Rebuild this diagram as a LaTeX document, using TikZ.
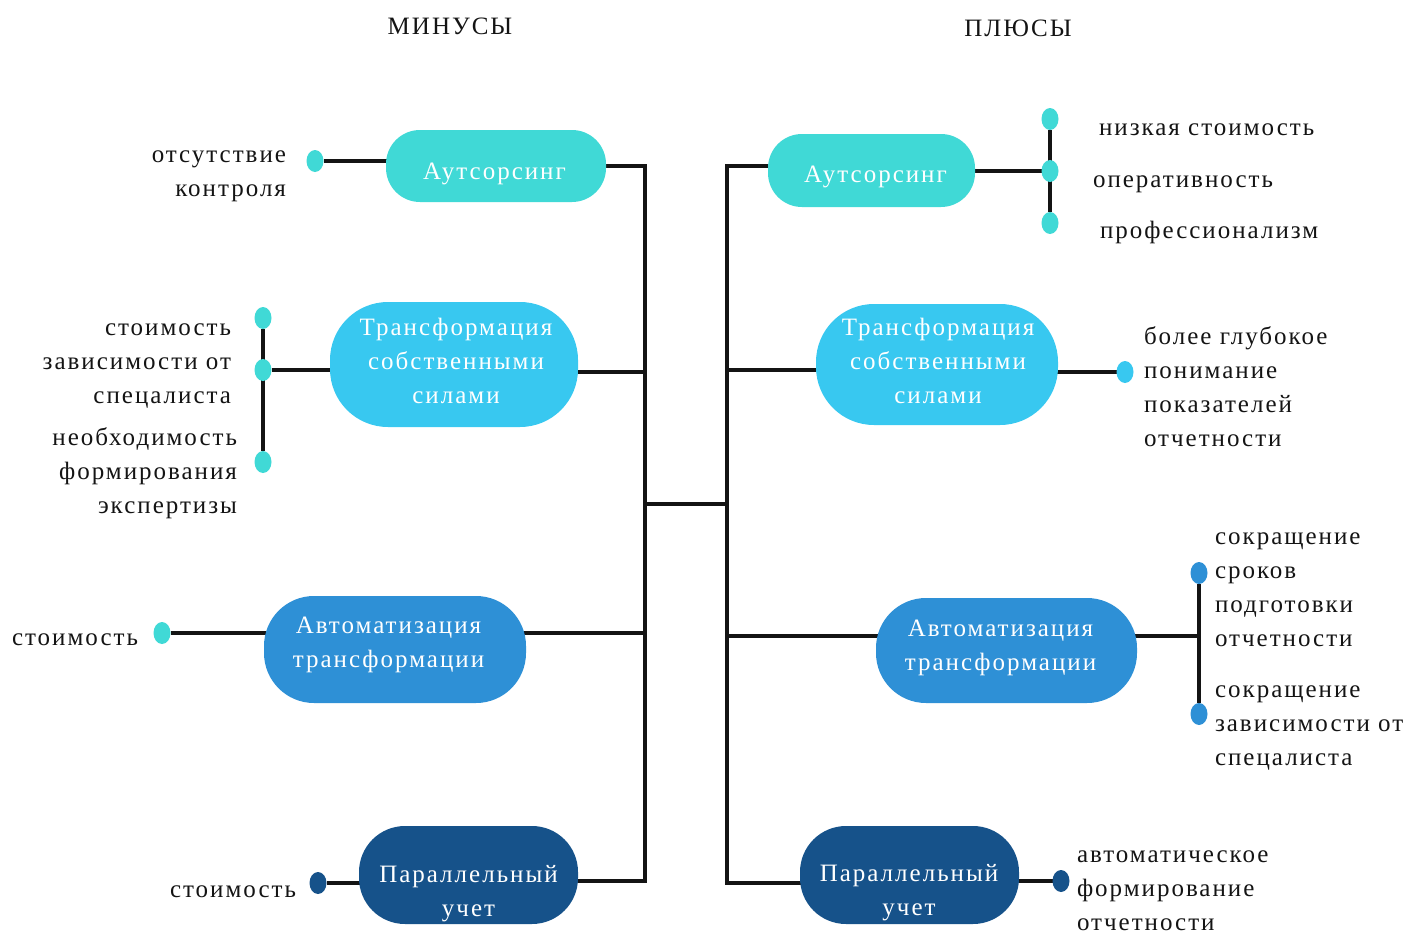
\documentclass[tikz,border=0pt]{standalone}
\usepackage{fontspec}
\setmainfont{Liberation Serif}[LetterSpace=8]
\usetikzlibrary{shapes.geometric}
\definecolor{turq}{HTML}{40D9D6}
\definecolor{cyanb}{HTML}{38C8F0}
\definecolor{midb}{HTML}{2E90D6}
\definecolor{darkb}{HTML}{16528A}
\definecolor{ink}{HTML}{141414}
\pgfdeclarelayer{bg}
\pgfsetlayers{bg,main}
\begin{document}
\begin{tikzpicture}[x=1pt,y=-1pt,
  every node/.style={inner sep=0pt,outer sep=0pt},
  txt/.style={font=\fontsize{25}{34}\selectfont,text=ink},
  wtxt/.style={font=\fontsize{25}{34}\selectfont,text=white,align=center},
  box/.style={draw=none},
  dot/.style={ellipse,minimum width=17pt,minimum height=22pt},
  ln/.style={line width=3.8pt,draw=ink}]
\useasboundingbox (0,0) rectangle (1411,934);

% titles
\node[txt,anchor=north] (tmin) at (450,11.2) {\strut МИНУСЫ};
\node[txt,anchor=north] (tplu) at (1018,13.2) {\strut ПЛЮСЫ};

% boxes, left
\node[box,fill=turq,minimum width=220pt,minimum height=72pt,rounded corners=34pt] (lA) at (496,166) {};
\node[box,fill=cyanb,minimum width=248pt,minimum height=125pt,rounded corners=58pt] (lT) at (454,364.5) {};
\node[box,fill=midb,minimum width=262pt,minimum height=107pt,rounded corners=50pt] (lM) at (395,649.5) {};
\node[box,fill=darkb,minimum width=219pt,minimum height=98pt,rounded corners=46pt] (lP) at (468.5,875) {};
% boxes, right
\node[box,fill=turq,minimum width=207pt,minimum height=73pt,rounded corners=34pt] (rA) at (871.5,170.5) {};
\node[box,fill=cyanb,minimum width=242pt,minimum height=121pt,rounded corners=58pt] (rT) at (937,364.5) {};
\node[box,fill=midb,minimum width=261pt,minimum height=105pt,rounded corners=50pt] (rM) at (1006.5,650.5) {};
\node[box,fill=darkb,minimum width=219pt,minimum height=98pt,rounded corners=46pt] (rP) at (909.5,875) {};

% box texts
\node[wtxt] (lAt) at (494.5,172.2) {\strut Аутсорсинг};
\node[wtxt] (lTt) at (456,362.2) {\strut Трансформация\\\strut собственными\\\strut силами};
\node[wtxt] (lMt) at (388.5,643.2) {\strut Автоматизация\\\strut трансформации};
\node[wtxt] (lPt) at (468.5,892.2) {\strut Параллельный\\\strut учет};
\node[wtxt] (rAt) at (875.5,175.2) {\strut Аутсорсинг};
\node[wtxt] (rTt) at (938,362.2) {\strut Трансформация\\\strut собственными\\\strut силами};
\node[wtxt] (rMt) at (1000.5,646.2) {\strut Автоматизация\\\strut трансформации};
\node[wtxt] (rPt) at (909,891.2) {\strut Параллельный\\\strut учет};

% dots, left
\node[dot,fill=turq] (dlA) at (315,161) {};
\node[dot,fill=turq] (dlT1) at (263,318) {};
\node[dot,fill=turq] (dlT2) at (263,370) {};
\node[dot,fill=turq] (dlT3) at (263,462) {};
\node[dot,fill=turq] (dlM) at (162,633) {};
\node[dot,fill=darkb] (dlP) at (318,883) {};
% dots, right
\node[dot,fill=turq] (drA1) at (1050,119) {};
\node[dot,fill=turq] (drA2) at (1050,171) {};
\node[dot,fill=turq] (drA3) at (1050,223) {};
\node[dot,fill=cyanb] (drT) at (1125,372) {};
\node[dot,fill=midb] (drM1) at (1199,573) {};
\node[dot,fill=midb] (drM2) at (1199,714) {};
\node[dot,fill=darkb] (drP) at (1061,881) {};

% labels, left
\node[txt,align=right,anchor=north east] (llA) at (286,138.2) {\strut отсутствие\\\strut контроля};
\node[txt,align=right,anchor=north east] (llT1) at (231,311.2) {\strut стоимость\\\strut зависимости от\\\strut спецалиста};
\node[txt,align=right,anchor=north east] (llT2) at (237,421.2) {\strut необходимость\\\strut формирования\\\strut экспертизы};
\node[txt,anchor=north east] (llM) at (138,621.2) {\strut стоимость};
\node[txt,anchor=north east] (llP) at (296,873.2) {\strut стоимость};
% labels, right
\node[txt,anchor=north west] (lrA1) at (1099,111.2) {\strut низкая стоимость};
\node[txt,anchor=north west] (lrA2) at (1093,163.2) {\strut оперативность};
\node[txt,anchor=north west] (lrA3) at (1100,214.2) {\strut профессионализм};
\node[txt,align=left,anchor=north west] (lrT) at (1144,320.2) {\strut более глубокое\\\strut понимание\\\strut показателей\\\strut отчетности};
\node[txt,align=left,anchor=north west] (lrM1) at (1215,520.2) {\strut сокращение\\\strut сроков\\\strut подготовки\\\strut отчетности};
\node[txt,align=left,anchor=north west] (lrM2) at (1215,673.2) {\strut сокращение\\\strut зависимости от\\\strut спецалиста};
\node[txt,align=left,anchor=north west] (lrP) at (1077,839) {\strut автоматическое\\\strut формирование\\\strut отчетности};

% trunk junctions
\coordinate (jlA) at (645,166);
\coordinate (jlT) at (645,372);
\coordinate (jlC) at (645,504);
\coordinate (jlM) at (645,633);
\coordinate (jlP) at (645,881);
\coordinate (jrA) at (727,166);
\coordinate (jrT) at (727,370);
\coordinate (jrC) at (729,504);
\coordinate (jrM) at (727,636);
\coordinate (jrP) at (727,883);

\begin{pgfonlayer}{bg}
  \fill[white] (0,0) rectangle (1411,934);
  % left trunk
  \draw[ln] (jlA -| lA.center) -- (jlA) -- (jlP) -- (jlP -| lP.center);
  \draw[ln] (jlT) -- (jlT -| lT.center);
  \draw[ln] (jlM) -- (jlM -| lM.center);
  % right trunk
  \draw[ln] (jrA -| rA.center) -- (jrA) -- (jrP) -- (jrP -| rP.center);
  \draw[ln] (jrT) -- (jrT -| rT.center);
  \draw[ln] (jrM) -- (jrM -| rM.center);
  % link
  \draw[ln] (jlC) -- (jrC);
  % left branches
  \draw[ln] (dlA) -- (dlA -| lA.center);
  \draw[ln] (dlT1) -- (dlT3);
  \draw[ln] (dlT2) -- (dlT2 -| lT.center);
  \draw[ln] (dlM) -- (dlM -| lM.center);
  \draw[ln] (dlP) -- (dlP -| lP.center);
  % right branches
  \draw[ln] (drA1) -- (drA3);
  \draw[ln] (drA2) -- (drA2 -| rA.center);
  \draw[ln] (drT) -- (drT -| rT.center);
  \draw[ln] (drM1) -- (drM2);
  \draw[ln] (drM1 |- jrM) -- (jrM -| rM.center);
  \draw[ln] (drP) -- (drP -| rP.center);
\end{pgfonlayer}
\end{tikzpicture}
\end{document}
